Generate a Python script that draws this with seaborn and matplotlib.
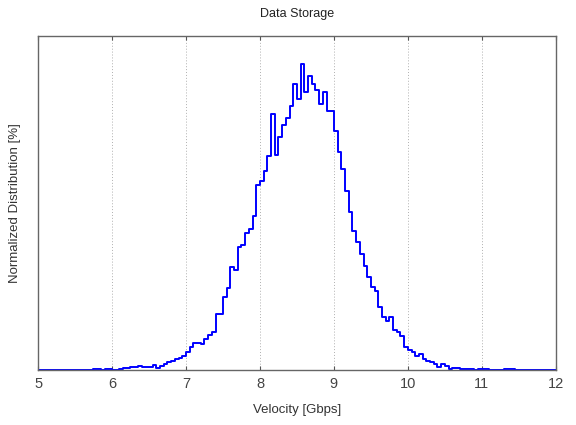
import numpy as np
import pandas as pd
import matplotlib
matplotlib.use("Agg")
import matplotlib.pyplot as plt
import seaborn as sns

# histogram bins, 0.05 Gbps wide, 5 -> 12
bin_edges = np.linspace(5, 12, 141)
bin_centers = (bin_edges[:-1] + bin_edges[1:]) / 2

# counts per bin (index 0 = 5.00-5.05)
counts = np.zeros(140)
counts[15:60] = [1, 1, 0, 1, 1, 0.5, 0.5, 1, 2, 2, 3, 3, 4, 3, 3, 3, 5, 2, 4, 6,
                 8, 9, 11, 12, 14, 18, 23, 27, 27, 26, 31, 35, 38, 56, 56, 73, 82,
                 103, 100, 123, 125, 137, 141, 154, 185]
counts[60:100] = [189, 199, 214, 256, 215, 233, 245, 252, 264, 286, 271, 306, 278,
                  294, 286, 280, 266, 278, 259, 259, 239, 218, 201, 179, 158, 139,
                  128, 116, 104, 93, 83, 79, 63, 53, 49, 53, 40, 38, 34, 23]
counts[100:129] = [20, 18, 14, 16, 11, 9, 8, 6, 3, 6, 4, 1, 2, 2, 1, 1, 1, 1, 0.5,
                   1, 1, 1, 0.5, 0, 0, 0, 1, 1, 1]

x_ticks = [5, 6, 7, 8, 9, 10, 11, 12]

df = pd.DataFrame({"velocity": bin_centers, "n": counts})

sns.set_style("white")
plt.rcParams["font.family"] = ["Liberation Sans", "DejaVu Sans"]

fig = plt.figure(figsize=(5.76, 4.25), dpi=100)
ax = fig.add_axes([0.066, 0.129, 0.899, 0.786])

sns.histplot(data=df, x="velocity", weights="n", binwidth=0.05, binrange=(5, 12),
             stat="percent", element="step", fill=False, color="#0000ff",
             linewidth=1.4, ax=ax)

ax.set_xlim(5, 12)
pct_max = counts.max() / counts.sum() * 100
ax.set_ylim(0, pct_max * 1.092)
ax.set_xticks(x_ticks)
ax.set_xticklabels([str(t) for t in x_ticks])
ax.set_yticks([])
for t in x_ticks[1:-1]:
    ax.axvline(t, color="#b0b0b0", lw=0.7, ls=(0, (1, 2)), zorder=0)

ax.tick_params(axis="x", direction="in", top=True, bottom=True, length=3,
               width=0.8, color="#555555", labelsize=10.5, labelcolor="#444444", pad=5)
for s in ax.spines.values():
    s.set_color("#666666")
    s.set_linewidth(1.0)

ax.set_title("Data Storage", fontsize=9, color="#222222", pad=14)
ax.set_xlabel("Velocity [Gbps]", fontsize=9.5, color="#333333", labelpad=9)
ax.set_ylabel("Normalized Distribution [%]", fontsize=9.5, color="#333333", labelpad=12)

fig.savefig("out.png", dpi=100)
